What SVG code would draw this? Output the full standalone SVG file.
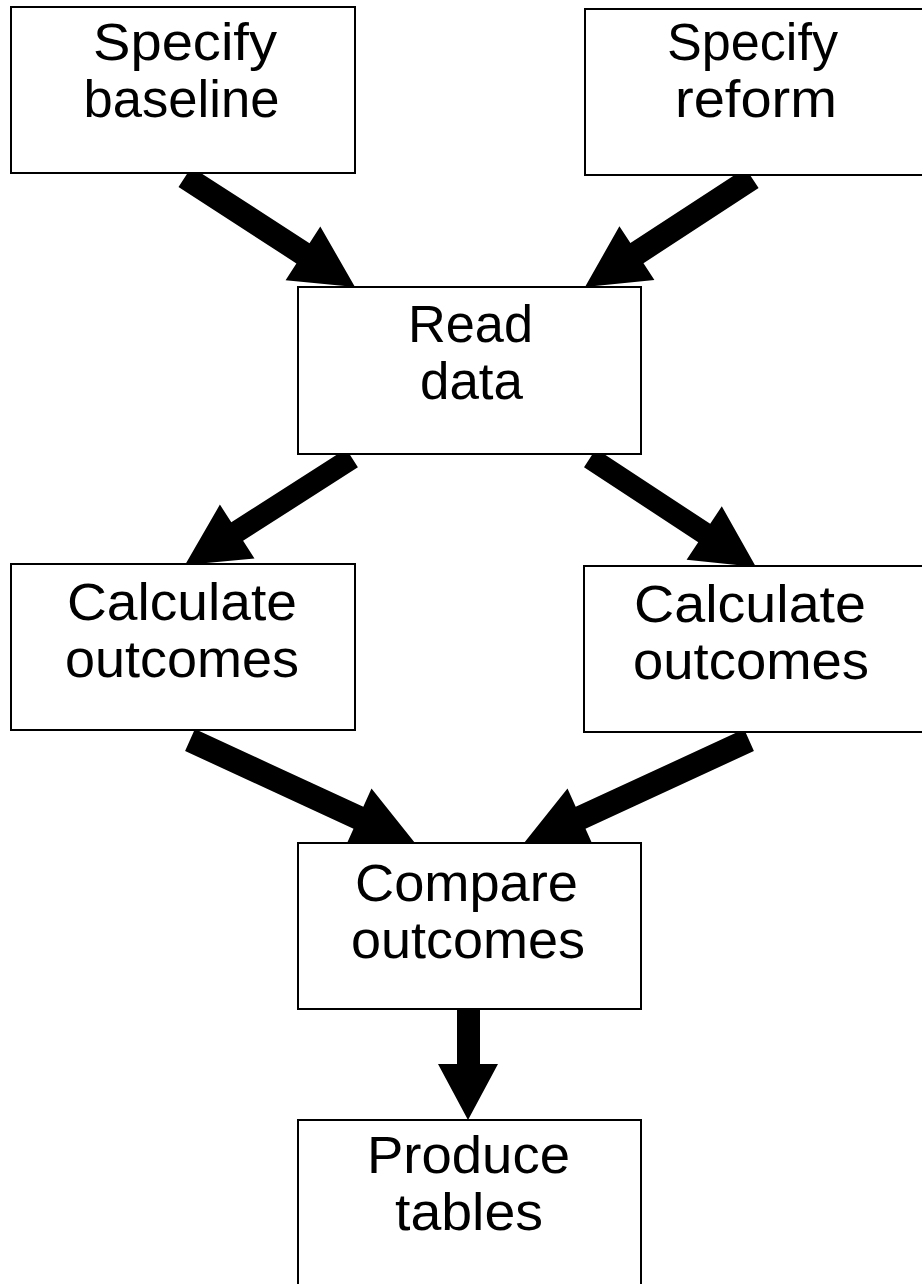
<svg xmlns="http://www.w3.org/2000/svg" width="922" height="1284" viewBox="0 0 922 1284">
  <style>
    .box { fill: #ffffff; stroke: #000000; stroke-width: 2; }
    .lbl { font-family: "Liberation Sans", Arial, Helvetica, sans-serif; font-size: 51px; fill: #000000; text-anchor: middle; }
    .arrow { fill: #000000; stroke: none; }
  </style>

  <!-- thick block arrows, drawn first so the boxes sit on top of their ends -->
  <g id="connectors">
    <polygon class="arrow" points="178.5,187.1 296.4,263.4 285.6,280.2 355,287 320.3,226.5 309.5,243.2 191.5,166.9"/>
    <polygon class="arrow" points="745.4,168 630.4,243.1 619.4,226.3 585,287 654.4,279.9 643.5,263.2 758.6,188.1"/>
    <polygon class="arrow" points="346.1,448.7 231.3,522.2 219.9,504.6 185,565 254.5,558.5 243.1,540.8 357.9,467.3"/>
    <polygon class="arrow" points="584,467.2 698.2,542.2 686.6,559.8 756,567 721.8,506.3 710.2,523.8 596,448.8"/>
    <polygon class="arrow" points="185.1,751 353.5,828.7 345.3,846.9 415,843 371.5,788.5 363.3,806.8 194.9,729.1"/>
    <polygon class="arrow" points="753.9,751 585.5,828.7 593.7,846.9 524,843 567.5,788.5 575.7,806.8 744.1,729.1"/>
    <polygon class="arrow" points="457,1006 480,1006 480,1064 498,1064 468,1120 438,1064 457,1064"/>
  </g>

  <g id="specify-baseline">
    <rect class="box" x="11" y="7" width="344" height="166"/>
    <text class="lbl" x="185" y="60" textLength="184" lengthAdjust="spacingAndGlyphs">Specify</text>
    <text class="lbl" x="181.5" y="117" textLength="196" lengthAdjust="spacingAndGlyphs">baseline</text>
  </g>

  <g id="specify-reform">
    <rect class="box" x="585" y="9" width="340" height="166"/>
    <text class="lbl" x="752.5" y="60" textLength="171" lengthAdjust="spacingAndGlyphs">Specify</text>
    <text class="lbl" x="756" y="117" textLength="162" lengthAdjust="spacingAndGlyphs">reform</text>
  </g>

  <g id="read-data">
    <rect class="box" x="298" y="287" width="343" height="167"/>
    <text class="lbl" x="470.5" y="342" textLength="125" lengthAdjust="spacingAndGlyphs">Read</text>
    <text class="lbl" x="471.5" y="399" textLength="103" lengthAdjust="spacingAndGlyphs">data</text>
  </g>

  <g id="calculate-baseline">
    <rect class="box" x="11" y="564" width="344" height="166"/>
    <text class="lbl" x="182" y="620" textLength="230" lengthAdjust="spacingAndGlyphs">Calculate</text>
    <text class="lbl" x="182" y="677" textLength="234" lengthAdjust="spacingAndGlyphs">outcomes</text>
  </g>

  <g id="calculate-reform">
    <rect class="box" x="584" y="566" width="341" height="166"/>
    <text class="lbl" x="750" y="622" textLength="232" lengthAdjust="spacingAndGlyphs">Calculate</text>
    <text class="lbl" x="751" y="679" textLength="236" lengthAdjust="spacingAndGlyphs">outcomes</text>
  </g>

  <g id="compare-outcomes">
    <rect class="box" x="298" y="843" width="343" height="166"/>
    <text class="lbl" x="466.5" y="901" textLength="223" lengthAdjust="spacingAndGlyphs">Compare</text>
    <text class="lbl" x="468" y="958" textLength="234" lengthAdjust="spacingAndGlyphs">outcomes</text>
  </g>

  <g id="produce-tables">
    <rect class="box" x="298" y="1120" width="343" height="175"/>
    <text class="lbl" x="468.5" y="1173" textLength="203" lengthAdjust="spacingAndGlyphs">Produce</text>
    <text class="lbl" x="469" y="1230" textLength="148" lengthAdjust="spacingAndGlyphs">tables</text>
  </g>
</svg>
